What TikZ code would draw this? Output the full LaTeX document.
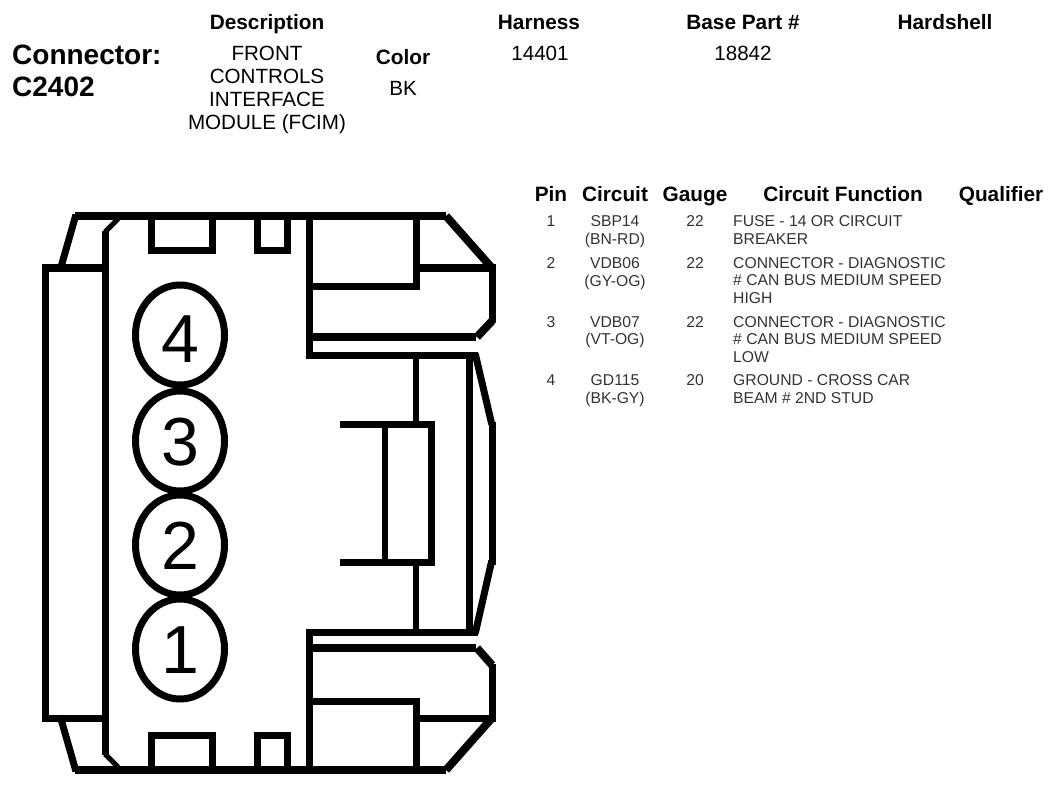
\documentclass[tikz,border=0pt]{standalone}
\usepackage{fontspec}
\setmainfont{Liberation Sans}
\usetikzlibrary{shapes,positioning}
\tikzset{
    wall/.style={line width=7pt, line cap=rect},
    heavy/.style={line width=8pt},
    slim/.style={line width=6pt},
    pinhole/.style={draw, ellipse, line width=7pt, minimum width=89pt, minimum height=100pt, inner sep=0pt},
    pindigit/.style={font=\fontsize{68}{68}\selectfont, inner sep=0pt},
    headlabel/.style={font=\fontsize{20.8}{20.8}\selectfont\bfseries, inner sep=0pt, anchor=base},
    infolabel/.style={font=\fontsize{20.6}{23}\selectfont, inner sep=0pt, align=center},
    cell/.style={font=\fontsize{15.7}{17.7}\selectfont, text=black!80, inner sep=0pt, align=center},
    funccell/.style={cell, anchor=west, align=left}
}
\begin{document}
\begin{tikzpicture}[x=1pt, y=-1pt]
    \useasboundingbox (0, 0) rectangle (1054, 786);

    % Title block
    \node [font=\fontsize{28}{32}\selectfont\bfseries, anchor=west, inner sep=0pt, align=left] (title) at (12, 71) {Connector:\\C2402};
    \node [headlabel] (description) at (267, 30) {Description};
    \node [headlabel] (harness) at (539, 30) {Harness};
    \node [headlabel] (basepart) at (743, 30) {Base Part \#};
    \node [headlabel] (hardshell) at (945, 30) {Hardshell};
    \node [infolabel] (module) at (267, 90) {FRONT\\CONTROLS\\INTERFACE\\MODULE (FCIM)};
    \node [headlabel] (color) at (403, 65) {Color};
    \node [infolabel] (colorval) at (403, 88) {BK};
    \node [infolabel] (harnessval) at (540, 53) {14401};
    \node [infolabel] (partval) at (743, 53) {18842};

    % Pin table
    \node [headlabel] (pinhead) at (551, 202) {Pin};
    \node [headlabel] (circuithead) at (615, 202) {Circuit};
    \node [headlabel] (gaugehead) at (695, 202) {Gauge};
    \node [headlabel] (functionhead) at (843, 202) {Circuit Function};
    \node [headlabel] (qualifierhead) at (1001, 202) {Qualifier};

    \node [cell] (pina) at (551, 221) {1};
    \node [cell] (circuita) at (615, 231.5) {SBP14\\(BN-RD)};
    \node [cell] (gaugea) at (695, 221) {22};
    \node [funccell] (funca) at (733, 230) {FUSE - 14 OR CIRCUIT\\BREAKER};

    \node [cell] (pinb) at (551, 263) {2};
    \node [cell] (circuitb) at (615, 273.5) {VDB06\\(GY-OG)};
    \node [cell] (gaugeb) at (695, 263) {22};
    \node [funccell] (funcb) at (733, 280.5) {CONNECTOR - DIAGNOSTIC\\\# CAN BUS MEDIUM SPEED\\HIGH};

    \node [cell] (pinc) at (551, 322) {3};
    \node [cell] (circuitc) at (615, 332) {VDB07\\(VT-OG)};
    \node [cell] (gaugec) at (695, 322) {22};
    \node [funccell] (funcc) at (733, 339.5) {CONNECTOR - DIAGNOSTIC\\\# CAN BUS MEDIUM SPEED\\LOW};

    \node [cell] (pind) at (551, 380) {4};
    \node [cell] (circuitd) at (615, 390.5) {GD115\\(BK-GY)};
    \node [cell] (gauged) at (695, 380) {20};
    \node [funccell] (funcd) at (733, 389) {GROUND - CROSS CAR\\BEAM \# 2ND STUD};

    % Connector body, left side
    \draw [heavy] (75, 216) -- (446, 216);
    \draw [heavy] (75, 770) -- (446, 770);
    \draw [wall] (75, 218) -- (61, 267);
    \draw [wall] (75, 768) -- (61, 719);
    \draw [wall] (45, 268) rectangle (105, 718);
    \draw [wall] (105, 268) -- (105, 235);
    \draw [wall] (105, 718) -- (105, 751);
    \draw [line width=5pt] (105, 232) -- (118, 219);
    \draw [line width=5pt] (105, 754) -- (118, 767);

    % Top and bottom tabs
    \draw [wall] (151, 216) -- (151, 251) -- (212, 251) -- (212, 216);
    \draw [wall] (257, 216) -- (257, 251) -- (287, 251) -- (287, 216);
    \draw [wall] (151, 770) -- (151, 735) -- (212, 735) -- (212, 770);
    \draw [wall] (257, 770) -- (257, 735) -- (287, 735) -- (287, 770);

    % Pins
    \node [pinhole] (pinfour) at (180, 335) {};
    \node [pinhole] (pinthree) at (180, 441) {};
    \node [pinhole] (pintwo) at (180, 545) {};
    \node [pinhole] (pinone) at (180, 649) {};
    \node [pindigit] (digitfour) at (180, 339) {4};
    \node [pindigit] (digitthree) at (180, 442) {3};
    \node [pindigit] (digittwo) at (180, 546) {2};
    \node [pindigit] (digitone) at (180, 650) {1};

    % Upper latch
    \draw [wall] (309, 216) -- (309, 355);
    \draw [wall] (309, 286) -- (416, 286) -- (416, 216);
    \draw [wall] (416, 268) -- (492, 268) -- (492, 319);
    \draw [heavy] (446, 216) -- (492, 268);
    \draw [heavy] (309, 337) -- (476, 337);
    \draw [heavy] (477, 337) -- (492, 321);
    \draw [wall] (309, 355) -- (474, 355);

    % Lower latch
    \draw [wall] (309, 632) -- (309, 770);
    \draw [wall] (309, 701) -- (416, 701) -- (416, 770);
    \draw [wall] (416, 718) -- (492, 718) -- (492, 667);
    \draw [heavy] (446, 770) -- (492, 718);
    \draw [heavy] (309, 648) -- (476, 648);
    \draw [heavy] (477, 648) -- (492, 665);
    \draw [wall] (309, 632) -- (474, 632);

    % Centre key and right wall
    \draw [slim] (416, 355) -- (416, 424);
    \draw [slim] (416, 562) -- (416, 632);
    \draw [wall] (343, 424) -- (431, 424) -- (431, 562) -- (343, 562);
    \draw [slim] (385, 424) -- (385, 562);
    \draw [wall] (469, 355) -- (469, 632);
    \draw [wall] (476, 357) -- (491, 421);
    \draw [wall] (491, 564) -- (476, 630);
    \draw [wall] (492, 425) -- (492, 561);
\end{tikzpicture}
\end{document}
